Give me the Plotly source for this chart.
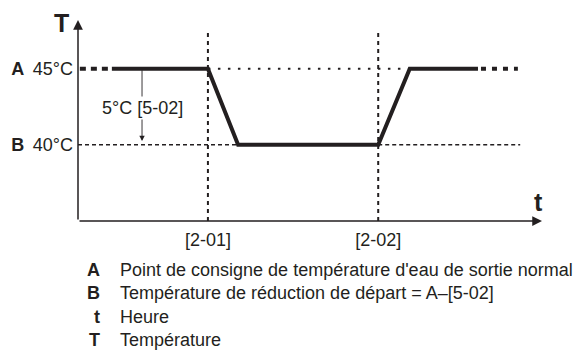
import plotly.graph_objects as go

# Temperatures (°C)
T_NORMAL = 45    # A: normal leaving water setpoint
T_SETBACK = 40   # B: setback start temperature = A - [5-02]

# Schematic time axis (arbitrary units)
switch_times = [28, 64.7]
switch_labels = ["[2-01]", "[2-02]"]

profile_t = [7.3, 28, 34.5, 64.7, 71.5, 86.2]
profile_T = [T_NORMAL, T_NORMAL, T_SETBACK, T_SETBACK, T_NORMAL, T_NORMAL]

lead_t = [0.4, 7.3]        # profile continues before the window
tail_t = [86.85, 94.8]     # profile continues after the window
setback_guides = [[0, 34.5], [64.7, 95.3]]
normal_guide = [28, 71.5]
delta_t = 13.8             # where the [5-02] offset is marked

t_range = [0, 100]
T_range = [35, 48.2]
guide_top = 47.6

level_vals = [T_SETBACK, T_NORMAL]
level_text = ["<b>B</b> \u200940°C", "<b>A</b> \u200945°C"]

legend_keys = ["A", "B", "t", "T"]
legend_texts = [
    "Point de consigne de température d'eau de sortie normal",
    "Température de réduction de départ = A–[5-02]",
    "Heure",
    "Température",
]

INK = "#231f20"
FONT = "Liberation Sans, Arial, sans-serif"
NARROW = "Liberation Sans Narrow, Arial Narrow, Liberation Sans, sans-serif"

fig = go.Figure()

# vertical guides at the switching times
for ts in switch_times:
    fig.add_trace(go.Scatter(x=[ts, ts], y=[T_range[0], guide_top], mode="lines",
                             line=dict(color=INK, width=2, dash="4px,4px")))

# B-level dashed guides
for seg in setback_guides:
    fig.add_trace(go.Scatter(x=seg, y=[T_SETBACK, T_SETBACK], mode="lines",
                             line=dict(color=INK, width=1.5, dash="4px,3px")))

# A-level dotted guide
fig.add_trace(go.Scatter(x=normal_guide, y=[T_NORMAL, T_NORMAL], mode="lines",
                         line=dict(color=INK, width=2, dash="2.5px,7.5px")))

# temperature profile
fig.add_trace(go.Scatter(x=lead_t, y=[T_NORMAL, T_NORMAL], mode="lines",
                         line=dict(color=INK, width=4, dash="6px,5px")))
fig.add_trace(go.Scatter(x=profile_t, y=profile_T, mode="lines",
                         line=dict(color=INK, width=4)))
fig.add_trace(go.Scatter(x=tail_t, y=[T_NORMAL, T_NORMAL], mode="lines",
                         line=dict(color=INK, width=4, dash="5px,6px")))

annotations = []

# axes with arrowheads
annotations.append(dict(x=t_range[0], y=T_range[1], ax=t_range[0], ay=T_range[0],
                        xref="x", yref="y", axref="x", ayref="y", text="",
                        showarrow=True, arrowhead=2, arrowsize=1.3, arrowwidth=1.5,
                        arrowcolor=INK))
annotations.append(dict(x=t_range[1], y=T_range[0], ax=t_range[0], ay=T_range[0],
                        xref="x", yref="y", axref="x", ayref="y", text="",
                        showarrow=True, arrowhead=2, arrowsize=1.3, arrowwidth=1.5,
                        arrowcolor=INK))

# [5-02] offset arrow
annotations.append(dict(x=delta_t, y=T_SETBACK + 0.25, ax=delta_t, ay=T_NORMAL,
                        xref="x", yref="y", axref="x", ayref="y", text="",
                        showarrow=True, arrowhead=2, arrowsize=1.2, arrowwidth=0.9,
                        arrowcolor=INK))
annotations.append(dict(x=delta_t, y=(T_NORMAL + T_SETBACK) / 2 - 0.1, xref="x", yref="y",
                        text="5°C [5-02]", showarrow=False, bgcolor="white",
                        font=dict(size=18, color=INK, family=FONT)))

# axis titles
annotations.append(dict(x=-0.0345, y=0.985, xref="paper", yref="paper", text="<b>T</b>",
                        showarrow=False, xanchor="center", yanchor="middle",
                        font=dict(size=25, color=INK, family=NARROW)))
annotations.append(dict(x=0.9935, y=0.095, xref="paper", yref="paper", text="<b>t</b>",
                        showarrow=False, xanchor="center", yanchor="middle",
                        font=dict(size=25, color=INK, family=FONT)))

# key below the chart
for i, (k, txt) in enumerate(zip(legend_keys, legend_texts)):
    yy = -0.244 - 0.116 * i
    annotations.append(dict(x=0.0517, y=yy, xref="paper", yref="paper", text=f"<b>{k}</b>",
                            showarrow=False, xanchor="right", yanchor="middle",
                            font=dict(size=18, color=INK, family=FONT)))
    annotations.append(dict(x=0.0862, y=yy, xref="paper", yref="paper", text=txt,
                            showarrow=False, xanchor="left", yanchor="middle",
                            font=dict(size=18, color=INK, family=FONT)))

fig.update_layout(
    width=587, height=350,
    margin=dict(l=78, r=45, t=20, b=129),
    paper_bgcolor="white", plot_bgcolor="white",
    showlegend=False,
    annotations=annotations,
    font=dict(family=FONT, size=18, color=INK),
    xaxis=dict(range=t_range, showgrid=False, zeroline=False, showline=False,
               tickvals=switch_times, ticktext=switch_labels, ticks="",
               ticklabelstandoff=6, tickfont=dict(size=18, color=INK, family=FONT)),
    yaxis=dict(range=T_range, showgrid=False, zeroline=False, showline=False,
               tickvals=level_vals, ticktext=level_text, ticks="",
               ticklabelstandoff=4, tickfont=dict(size=18, color=INK, family=FONT)),
)

fig.write_html("out.html")
